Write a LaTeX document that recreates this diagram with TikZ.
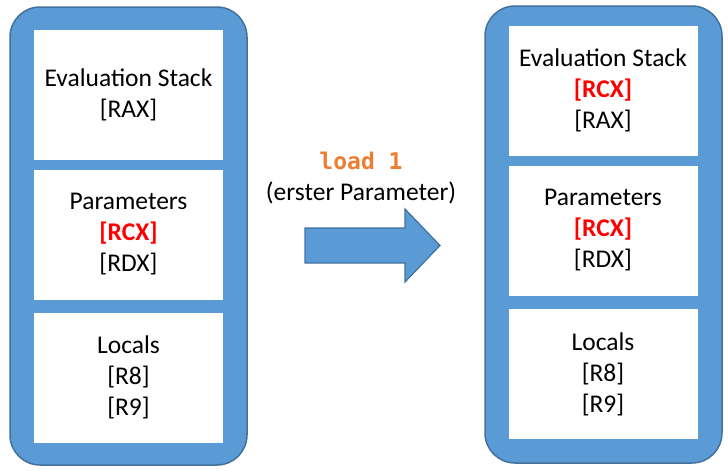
\documentclass[tikz,border=0pt]{standalone}
\usepackage{fontspec}
\setmainfont{Carlito}
\newfontfamily\codefont{DejaVu Sans Mono}
\usetikzlibrary{positioning}

\definecolor{panelblue}{HTML}{5B9BD5}
\definecolor{paneledge}{HTML}{41719C}
\definecolor{codeorange}{HTML}{ED7D31}

\newcommand{\hotreg}[1]{\textcolor{red}{\bfseries[#1]}}

\begin{document}
\begin{tikzpicture}[x=1pt,y=-1pt,
  every node/.style={font=\fontsize{25.5}{31}\selectfont},
  panel/.style={draw=paneledge,line width=1.5pt,fill=panelblue,rounded corners=30pt},
  slot/.style={fill=white,minimum width=189pt,minimum height=130pt,
    inner sep=0pt,align=center},
  ]
  \useasboundingbox (0,0) rectangle (728,471);

  % stack frame before
  \draw[panel] (10,7) rectangle (247,465);
  \node[slot] (evalA) at (128.5,94.5) {Evaluation Stack\\{}[RAX]};
  \node[slot] (paramA) at (128.5,234.5) {Parameters\\\hotreg{RCX}\\{}[RDX]};
  \node[slot] (localA) at (128.5,377.5) {Locals\\{}[R8]\\{}[R9]};

  % stack frame after
  \draw[panel] (485,6) rectangle (722,463);
  \node[slot] (evalB) at (603,90.5) {Evaluation Stack\\\hotreg{RCX}\\{}[RAX]};
  \node[slot] (paramB) at (603,230.5) {Parameters\\\hotreg{RCX}\\{}[RDX]};
  \node[slot] (localB) at (603,374) {Locals\\{}[R8]\\{}[R9]};

  % instruction
  \node[text=codeorange,font=\codefont\bfseries\fontsize{23}{28}\selectfont]
    (instr) at (361,161) {load 1};
  \node[below=5pt of instr] (instrnote) {(erster Parameter)};
  \draw[panel,rounded corners=0pt,line width=1.2pt]
    (305,228) -- (405,228) -- (405,209) -- (440,245.5)
    -- (405,282) -- (405,263) -- (305,263) -- cycle;
\end{tikzpicture}
\end{document}
